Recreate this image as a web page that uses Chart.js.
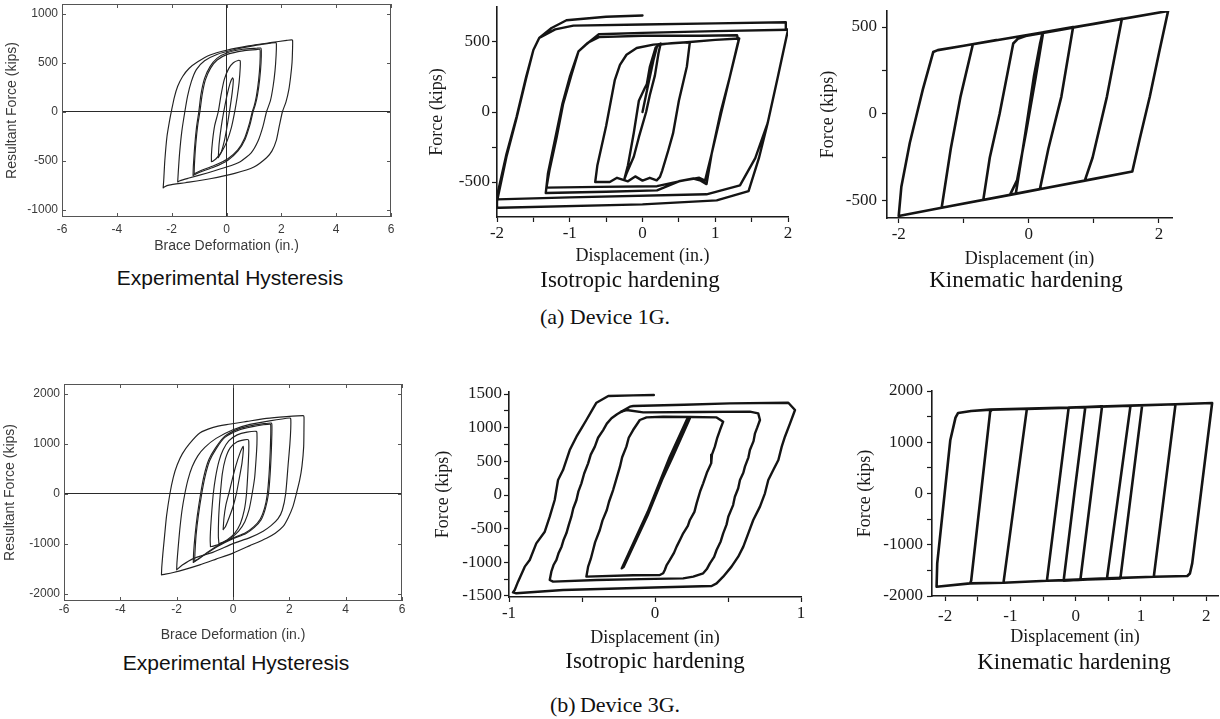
<!DOCTYPE html>
<html>
<head>
<meta charset="utf-8">
<script src="https://cdn.jsdelivr.net/npm/chart.js@4.4.1/dist/chart.umd.min.js"></script>
<style>
  html, body { margin: 0; padding: 0; background: #fff; overflow: hidden; }
  #wrap { position: relative; width: 1220px; height: 719px; overflow: hidden; }
  #wrap canvas { position: absolute; }
  .cap { position: absolute; white-space: nowrap; transform: translate(-50%, -50%); line-height: 1; color: #111; }
  .serif { font-family: "Liberation Serif", "Times New Roman", serif; }
  .sans { font-family: "Liberation Sans", Arial, sans-serif; }
</style>
</head>
<body>
<div id="wrap"></div>
<script>
// ---------- Experimental hysteresis, device 1G (in., kips) ----------
const exp1gLoop1 = [[-2.31,-778],[-2.29,-700],[-2.25,-500],[-2.17,-250],[-2.07,-80],[-2.0,20],[-1.9,150],[-1.78,260],[-1.6,360],[-1.36,444],[-1.05,510],[-0.6,580],[0,628],[0.8,672],[1.6,705],[2.2,728],[2.37,734],[2.41,728],[2.41,650],[2.39,500],[2.34,360],[2.27,220],[2.17,100],[2.04,0],[1.93,-140],[1.82,-290],[1.66,-400],[1.46,-470],[1.0,-565],[0.3,-630],[-0.6,-685],[-1.5,-725],[-2.1,-750],[-2.27,-768],[-2.31,-778]];
const exp1gLoop2 = [[-1.78,-717],[-1.76,-620],[-1.71,-420],[-1.63,-200],[-1.52,0],[-1.42,160],[-1.28,310],[-1.1,430],[-0.8,520],[-0.35,585],[0.3,635],[1.1,680],[1.6,700],[1.8,706],[1.82,690],[1.81,580],[1.77,420],[1.7,260],[1.6,110],[1.46,0],[1.33,-150],[1.15,-300],[0.9,-420],[0.5,-510],[0,-565],[-0.7,-625],[-1.4,-680],[-1.7,-705],[-1.78,-717]];
const exp1gLoop3 = [[-1.22,-650],[-1.21,-560],[-1.16,-350],[-1.09,-150],[-1.01,0],[-0.93,180],[-0.8,340],[-0.6,460],[-0.35,545],[0.05,605],[0.6,638],[1.1,648],[1.25,650],[1.27,625],[1.26,500],[1.21,330],[1.13,170],[1.05,70],[0.97,0],[0.86,-130],[0.68,-280],[0.42,-400],[0.05,-495],[-0.45,-565],[-0.95,-615],[-1.15,-640],[-1.22,-650]];
const exp1gLoop3b = [[-1.18,-635],[-1.17,-540],[-1.12,-330],[-1.05,-140],[-0.97,0],[-0.89,170],[-0.77,325],[-0.58,445],[-0.34,528],[0.05,588],[0.6,622],[1.08,634],[1.21,638],[1.23,612],[1.22,490],[1.17,320],[1.09,160],[1.01,60],[0.94,0],[0.83,-125],[0.66,-270],[0.41,-390],[0.05,-480],[-0.45,-550],[-0.93,-600],[-1.12,-625],[-1.18,-635]];
const exp1gLoop4 = [[-0.55,-510],[-0.55,-440],[-0.51,-300],[-0.43,-140],[-0.3,0],[-0.2,170],[-0.08,330],[0.08,440],[0.25,500],[0.45,525],[0.5,520],[0.5,450],[0.46,300],[0.39,150],[0.3,0],[0.18,-160],[0.02,-300],[-0.18,-410],[-0.38,-480],[-0.5,-505],[-0.55,-510]];
const exp1gLoop5 = [[-0.3,-470],[-0.27,-330],[-0.19,-150],[-0.1,0],[0.02,170],[0.13,290],[0.22,345],[0.25,330],[0.21,200],[0.14,60],[0.04,-120],[-0.08,-300],[-0.2,-420],[-0.3,-470]];

// ---------- Experimental hysteresis, device 3G ----------
const exp3gLoop1 = [[-2.54,-1625],[-2.53,-1480],[-2.49,-1200],[-2.43,-850],[-2.36,-450],[-2.24,0],[-2.12,330],[-1.98,580],[-1.8,800],[-1.55,1000],[-1.18,1217],[-0.7,1330],[-0.23,1385],[0.5,1450],[1.19,1510],[1.9,1545],[2.49,1565],[2.52,1545],[2.52,1350],[2.51,950],[2.45,560],[2.37,281],[2.25,0],[2.13,-254],[1.96,-480],[1.78,-655],[1.5,-790],[1.19,-890],[0.6,-1040],[0,-1190],[-0.6,-1310],[-1.18,-1425],[-1.7,-1515],[-2.12,-1579],[-2.4,-1612],[-2.54,-1625]];
const exp3gLoop2 = [[-2.0,-1525],[-1.99,-1380],[-1.95,-1100],[-1.89,-720],[-1.81,-330],[-1.71,0],[-1.6,280],[-1.45,540],[-1.25,760],[-1.0,930],[-0.6,1110],[0,1284],[0.6,1390],[1.3,1460],[2.01,1518],[2.05,1500],[2.05,1300],[2.02,1000],[1.96,600],[1.87,0],[1.75,-330],[1.6,-500],[1.35,-640],[1.07,-750],[0.6,-880],[0,-1000],[-0.7,-1170],[-1.41,-1300],[-1.8,-1430],[-2.0,-1525]];
const exp3gLoop3 = [[-1.41,-1378],[-1.4,-1200],[-1.35,-850],[-1.27,-450],[-1.15,0],[-1.03,360],[-0.86,680],[-0.62,920],[-0.3,1150],[0.2,1300],[0.7,1370],[1.1,1405],[1.36,1418],[1.38,1390],[1.38,1200],[1.36,850],[1.32,400],[1.26,0],[1.15,-300],[1.0,-520],[0.75,-680],[0.45,-800],[0.0,-900],[-0.5,-1040],[-0.95,-1200],[-1.25,-1320],[-1.41,-1378]];
const exp3gLoop3b = [[-1.36,-1350],[-1.35,-1180],[-1.31,-830],[-1.23,-440],[-1.11,0],[-0.99,350],[-0.83,660],[-0.6,900],[-0.3,1125],[0.2,1275],[0.7,1345],[1.08,1382],[1.32,1396],[1.34,1370],[1.34,1180],[1.32,830],[1.28,390],[1.22,0],[1.12,-290],[0.97,-505],[0.73,-665],[0.43,-785],[0.0,-885],[-0.5,-1025],[-0.93,-1180],[-1.21,-1296],[-1.36,-1350]];
const exp3gLoop4 = [[-0.8,-1060],[-0.81,-920],[-0.79,-650],[-0.75,-330],[-0.7,0],[-0.62,330],[-0.5,650],[-0.35,880],[-0.15,1060],[0.15,1180],[0.5,1235],[0.83,1251],[0.85,1220],[0.85,1000],[0.82,700],[0.77,330],[0.68,0],[0.57,-320],[0.42,-560],[0.2,-750],[-0.1,-900],[-0.45,-1005],[-0.7,-1050],[-0.8,-1060]];
const exp3gLoop5 = [[-0.5,-1000],[-0.52,-850],[-0.51,-500],[-0.48,-200],[-0.45,0],[-0.38,400],[-0.27,700],[-0.1,920],[0.15,1040],[0.4,1080],[0.54,1084],[0.56,1050],[0.56,850],[0.53,450],[0.48,0],[0.4,-330],[0.26,-600],[0.05,-800],[-0.2,-920],[-0.42,-985],[-0.5,-1000]];
const exp3gLoop6 = [[-0.35,-720],[-0.32,-480],[-0.25,-220],[-0.15,0],[-0.03,280],[0.1,560],[0.25,820],[0.36,950],[0.37,900],[0.32,620],[0.22,300],[0.12,0],[0.0,-260],[-0.14,-480],[-0.27,-660],[-0.35,-720]];

// ---------- Isotropic hardening model, device 1G ----------
const iso1gCore = [[0,0],[0.08,200],[0.15,370],[0.2,470],[0.25,490],[0.22,420],[0.17,260],[0.1,120],[0.05,0],[-0.05,-180],[-0.12,-320],[-0.22,-440],[-0.25,-480],[-0.2,-380],[-0.12,-150],[-0.05,80],[0.03,170],[0.06,200],[0.1,320],[0.18,460],[0.22,480]];
const iso1gMid = [[0.22,480],[0.4,492],[0.61,498],[0.65,495],[0.61,325],[0.5,80],[0.42,-153],[0.355,-273],[0.27,-420],[0.24,-464],[0.195,-488],[0.1,-470],[0,-490],[-0.1,-460],[-0.2,-495],[-0.35,-470],[-0.45,-500],[-0.65,-500],[-0.62,-380],[-0.5,-100],[-0.38,230],[-0.31,337],[-0.22,409],[-0.08,457],[0.15,481],[0.61,498]];
const iso1gMedium = [[0.61,498],[1.0,515],[1.33,525],[1.31,490],[1.2,250],[1.08,-10],[0.95,-300],[0.86,-490],[0.78,-470],[0.55,-490],[0.2,-530],[-0.6,-535],[-1.32,-540],[-1.28,-420],[-1.18,-180],[-1.09,60],[-0.98,260],[-0.88,433],[-0.75,495],[-0.6,535],[0,545],[0.8,545],[1.3,548],[1.32,505],[1.2,250],[1.07,-10],[0.95,-300],[0.88,-515],[0.8,-490],[0.7,-475],[0.5,-495],[0.2,-560],[-0.5,-570],[-1.33,-579],[-1.3,-440],[-1.2,-190],[-1.1,60],[-1.0,250],[-0.88,433],[-0.78,480],[-0.6,555],[0,565],[1.0,578],[2.0,588]];
const iso1gOuter = [[2.0,588],[1.86,250],[1.72,-80],[1.55,-330],[1.34,-524],[0.88,-588],[-1.0,-610],[-2.01,-624],[-1.87,-300],[-1.73,-33],[-1.6,250],[-1.5,443],[-1.42,529],[-1.2,590],[-0.95,617],[0,625],[1.0,633],[1.97,641],[1.97,590],[2.0,588],[1.86,250],[1.72,-80],[1.6,-330],[1.458,-565],[1.02,-631],[0,-660],[-1.96,-684],[-2.0,-684],[-2.0,-640],[-1.87,-320],[-1.73,-40],[-1.6,240],[-1.5,443],[-1.42,529],[-1.25,600],[-1.045,655],[-0.5,680],[0,689]];

// ---------- Kinematic hardening model, device 1G ----------
const kin1gPath = [[0,0],[0.06,120],[0.15,330],[0.22,470],[0.1,200],[-0.04,-100],[-0.18,-380],[-0.29,-465],[-0.2,-458],[-0.05,-100],[0.08,220],[0.17,400],[0.2,450],[0.22,470],[0.68,500],[0.5,100],[0.3,-200],[0.17,-432],[-0.29,-465],[-0.7,-494],[-0.6,-250],[-0.45,0],[-0.32,250],[-0.24,405],[-0.17,432],[-0.05,448],[0.5,485],[1.43,547],[1.2,100],[0.98,-250],[0.86,-383],[0.3,-423],[-0.5,-480],[-1.34,-539],[-1.2,-200],[-1.05,100],[-0.86,401],[0,456],[1.0,518],[2.14,592],[2.0,350],[1.86,102],[1.7,-150],[1.59,-331],[1.0,-373],[0,-444],[-1.0,-515],[-2.0,-586],[-1.96,-420],[-1.83,-167],[-1.73,-13],[-1.63,140],[-1.47,356],[-1.4,367],[-1.0,392],[-0.5,425]];

// ---------- Isotropic hardening model, device 3G ----------
const iso3gCore = [[0,0],[0.12,560],[0.239,1139],[0.22,1130],[0.1,560],[-0.05,-250],[-0.228,-1090],[-0.215,-1070],[-0.05,-300],[0.1,500],[0.24,1150]];
const iso3gSmall = [[-0.058,1153],[0.056,1163],[0.24,1158],[0.422,1153],[0.467,1089],[0.445,965],[0.425,840],[0.41,718],[0.39,600],[0.385,470],[0.355,330],[0.33,173],[0.31,60],[0.285,-124],[0.27,-250],[0.239,-371],[0.225,-460],[0.193,-569],[0.175,-650],[0.148,-767],[0.13,-860],[0.102,-965],[0.08,-1040],[0.067,-1114],[0.056,-1163],[0.033,-1188],[-0.15,-1192],[-0.47,-1213],[-0.458,-1064],[-0.44,-950],[-0.424,-817],[-0.41,-700],[-0.378,-520],[-0.36,-380],[-0.33,-223],[-0.315,-100],[-0.287,74],[-0.27,200],[-0.24,421],[-0.225,560],[-0.196,718],[-0.18,850],[-0.15,965],[-0.104,1114],[-0.058,1153]];
const iso3gMedium = [[-0.195,1262],[-0.081,1228],[0.3,1232],[0.65,1238],[0.707,1213],[0.719,1114],[0.7,1000],[0.685,916],[0.675,800],[0.65,668],[0.64,560],[0.616,421],[0.605,330],[0.582,223],[0.57,100],[0.547,-25],[0.535,-150],[0.502,-322],[0.49,-440],[0.467,-569],[0.45,-690],[0.422,-817],[0.405,-920],[0.376,-1015],[0.355,-1100],[0.33,-1163],[0.262,-1213],[0.193,-1238],[-0.1,-1250],[-0.401,-1262],[-0.698,-1287],[-0.721,-1262],[-0.71,-1139],[-0.695,-1040],[-0.675,-965],[-0.66,-860],[-0.64,-767],[-0.625,-660],[-0.607,-569],[-0.59,-440],[-0.573,-322],[-0.56,-200],[-0.538,-74],[-0.525,50],[-0.504,173],[-0.485,320],[-0.458,470],[-0.44,600],[-0.412,718],[-0.39,850],[-0.355,965],[-0.33,1060],[-0.298,1139],[-0.26,1200],[-0.23,1238],[-0.195,1262]];
const iso3gOuter = [[-0.23,1238],[-0.172,1312],[-0.149,1322],[0.2,1340],[0.513,1361],[0.913,1371],[0.959,1262],[0.925,1064],[0.89,866],[0.868,718],[0.845,520],[0.81,371],[0.776,223],[0.753,25],[0.719,-173],[0.673,-371],[0.639,-569],[0.605,-767],[0.57,-916],[0.524,-1064],[0.467,-1213],[0.422,-1312],[0.388,-1351],[0.056,-1371],[-0.63,-1411],[-0.95,-1460],[-0.973,-1446],[-0.961,-1411],[-0.938,-1287],[-0.892,-1064],[-0.858,-965],[-0.813,-718],[-0.755,-545],[-0.721,-322],[-0.687,-74],[-0.664,223],[-0.63,371],[-0.584,668],[-0.538,866],[-0.504,990],[-0.47,1114],[-0.424,1287],[-0.401,1371],[-0.32,1470],[-0.15,1480],[-0.008,1485]];

// ---------- Kinematic hardening model, device 3G ----------
const kin3gPath = [[-0.02,0],[0.148,1688],[0.404,1701],[0.072,-1688],[-0.44,-1701],[-0.107,1675],[0.84,1714],[0.48,-1656],[-0.44,-1701],[-1.105,-1740],[-0.747,1650],[-0.107,1675],[1.018,1721],[0.685,-1656],[-0.44,-1701],[-1.105,-1740],[-1.616,-1753],[-1.6,-1700],[-1.309,1600],[-1.28,1636],[-0.107,1675],[0.84,1714],[1.529,1740],[1.197,-1623],[0.48,-1656],[-0.44,-1701],[-1.105,-1740],[-1.616,-1753],[-2.13,-1818],[-2.12,-1364],[-1.92,1039],[-1.84,1480],[-1.8,1571],[-1.6,1610],[-1.31,1636],[-0.107,1675],[0.84,1714],[1.529,1740],[2.09,1766],[1.785,-1364],[1.75,-1560],[1.71,-1610],[1.197,-1623],[0.48,-1656],[-0.184,-1701],[-0.02,0]];

// ---------- axis ticks and labels ----------
const expXTicks = [-6,-4,-2,0,2,4,6];
const expY1gTicks = [-1000,-500,0,500,1000];
const expY3gTicks = [-2000,-1000,0,1000,2000];
const iso1gXTicks = [-2,-1.5,-1,-0.5,0,0.5,1,1.5,2];
const iso1gXLabels = [-2,-1,0,1,2];
const iso1gYTicks = [-500,-250,0,250,500];
const iso1gYLabels = [-500,0,500];
const kin1gXTicks = [-2,-1,0,1,2];
const kin1gXLabels = [-2,0,2];
const iso3gXTicks = [-1,-0.5,0,0.5,1];
const iso3gXLabels = [-1,0,1];
const iso3gYTicks = [-1500,-1250,-1000,-750,-500,-250,0,250,500,750,1000,1250,1500];
const iso3gYLabels = [-1500,-1000,-500,0,500,1000,1500];
const kin3gXTicks = [-2,-1.5,-1,-0.5,0,0.5,1,1.5,2];
const kin3gXLabels = [-2,-1,0,1,2];
const kin3gYTicks = [-2000,-1500,-1000,-500,0,500,1000,1500,2000];
const kin3gYLabels = [-2000,-1000,0,1000,2000];

const SERIF = '"Liberation Serif", "Times New Roman", serif';
const SANS = '"Liberation Sans", Arial, sans-serif';
const PAD_TOP = 16, PAD_RIGHT = 20;
const wrap = document.getElementById('wrap');

// Box with inward tick marks for the test-data panels
const frameTicks = {
  id: 'frameTicks',
  afterDraw(chart, args, opts) {
    if (!opts || !opts.on) return;
    const { ctx, chartArea: a, scales: { x, y } } = chart;
    const len = 4;
    ctx.save();
    ctx.strokeStyle = '#555';
    ctx.lineWidth = 1;
    ctx.strokeRect(a.left + 0.5, a.top + 0.5, a.right - a.left - 1, a.bottom - a.top - 1);
    ctx.beginPath();
    x.ticks.forEach(t => {
      const p = Math.round(x.getPixelForValue(t.value)) + 0.5;
      ctx.moveTo(p, a.bottom); ctx.lineTo(p, a.bottom - len);
      ctx.moveTo(p, a.top); ctx.lineTo(p, a.top + len);
    });
    y.ticks.forEach(t => {
      const p = Math.round(y.getPixelForValue(t.value)) + 0.5;
      ctx.moveTo(a.left, p); ctx.lineTo(a.left + len, p);
      ctx.moveTo(a.right, p); ctx.lineTo(a.right - len, p);
    });
    ctx.stroke();
    ctx.restore();
  }
};

function axis(o) {
  const horiz = o.position === 'bottom';
  return {
    type: 'linear', position: o.position, min: o.min, max: o.max,
    afterFit: s => { if (horiz) s.height = o.size; else s.width = o.size; },
    afterBuildTicks: s => { s.ticks = o.ticks.map(v => ({ value: v })); },
    ticks: {
      autoSkip: false, includeBounds: false, maxRotation: 0, minRotation: 0,
      padding: o.tickPad, color: o.color,
      font: { family: o.family, size: o.fontSize },
      callback: v => (o.labels.includes(v) ? String(v) : '')
    },
    grid: o.grid,
    border: o.border,
    title: {
      display: true, text: o.title, color: o.color,
      font: { family: o.family, size: o.titleSize },
      padding: horiz ? { top: 0, bottom: o.titlePad } : { top: o.titlePad, bottom: 0 }
    }
  };
}

function panel(p) {
  const c = document.createElement('canvas');
  const W = p.yW + (p.box.right - p.box.left) + PAD_RIGHT;
  const H = PAD_TOP + (p.box.bottom - p.box.top) + p.xH;
  c.width = W; c.height = H;
  c.style.left = (p.box.left - p.yW) + 'px';
  c.style.top = (p.box.top - PAD_TOP) + 'px';
  c.style.width = W + 'px'; c.style.height = H + 'px';
  wrap.appendChild(c);

  const exp = p.kind === 'exp';
  const family = exp ? SANS : SERIF;
  const textColor = exp ? '#3a3a3a' : '#1a1a1a';
  const grid = exp
    ? { display: true, drawOnChartArea: true, drawTicks: false,
        color: ctx => (ctx.tick && ctx.tick.value === 0 ? '#2a2a2a' : 'rgba(0,0,0,0)'), lineWidth: 1 }
    : { display: true, drawOnChartArea: false, drawTicks: true, tickLength: 5, tickColor: '#1a1a1a', tickWidth: 1.2 };
  const border = exp ? { display: false } : { display: true, color: '#1a1a1a', width: 1.6 };

  new Chart(c, {
    type: 'scatter',
    data: {
      datasets: p.series.map(s => ({
        data: s.map(q => ({ x: q[0], y: q[1] })),
        showLine: true, fill: false, pointRadius: 0,
        borderColor: exp ? '#222' : '#141414',
        borderWidth: exp ? 1.15 : p.lw,
        tension: exp ? 0.2 : 0,
        borderJoinStyle: 'round', borderCapStyle: 'round'
      }))
    },
    options: {
      responsive: false, animation: false, events: [],
      layout: { padding: { top: PAD_TOP, right: PAD_RIGHT, left: 0, bottom: 0 } },
      plugins: { legend: { display: false }, tooltip: { enabled: false }, frameTicks: { on: exp } },
      scales: {
        x: axis({ position: 'bottom', min: p.xMin, max: p.xMax, size: p.xH, ticks: p.xTicks, labels: p.xLabels,
                  tickPad: p.xTickPad, color: textColor, family, fontSize: p.tickSize, grid, border,
                  title: p.xTitle, titleSize: p.titleSize, titlePad: p.xTitlePad }),
        y: axis({ position: 'left', min: p.yMin, max: p.yMax, size: p.yW, ticks: p.yTicks, labels: p.yLabels,
                  tickPad: p.yTickPad, color: textColor, family, fontSize: p.tickSize, grid, border,
                  title: p.yTitle, titleSize: p.titleSize, titlePad: p.yTitlePad })
      }
    },
    plugins: [frameTicks]
  });
}

// (a) Device 1G
panel({ kind: 'exp', box: { left: 62, top: 4, right: 391, bottom: 217 }, yW: 62, xH: 40,
  xMin: -6, xMax: 6, yMin: -1075, yMax: 1100,
  xTicks: expXTicks, xLabels: expXTicks, yTicks: expY1gTicks, yLabels: expY1gTicks,
  tickSize: 12, titleSize: 14, xTickPad: 5.6, yTickPad: 4, xTitlePad: 2.6, yTitlePad: 3.6,
  xTitle: 'Brace Deformation (in.)', yTitle: 'Resultant Force (kips)',
  series: [exp1gLoop1, exp1gLoop2, exp1gLoop3, exp1gLoop3b, exp1gLoop4, exp1gLoop5] });

panel({ kind: 'model', box: { left: 497, top: 7, right: 788, bottom: 217 }, yW: 77, xH: 52, lw: 2.4,
  xMin: -2, xMax: 2, yMin: -750, yMax: 750,
  xTicks: iso1gXTicks, xLabels: iso1gXLabels, yTicks: iso1gYTicks, yLabels: iso1gYLabels,
  tickSize: 17, titleSize: 18, xTickPad: 1, yTickPad: 2, xTitlePad: 2.2, yTitlePad: 6.7,
  xTitle: 'Displacement (in.)', yTitle: 'Force (kips)',
  series: [iso1gCore, iso1gMid, iso1gMedium, iso1gOuter] });

panel({ kind: 'model', box: { left: 887, top: 11, right: 1172, bottom: 218 }, yW: 77, xH: 54, lw: 2.6,
  xMin: -2.18, xMax: 2.2, yMin: -598, yMax: 592,
  xTicks: kin1gXTicks, xLabels: kin1gXLabels, yTicks: iso1gYTicks, yLabels: iso1gYLabels,
  tickSize: 17, titleSize: 18, xTickPad: 1.8, yTickPad: 5, xTitlePad: 2.2, yTitlePad: 7.2,
  xTitle: 'Displacement (in)', yTitle: 'Force (kips)',
  series: [kin1gPath] });

// (b) Device 3G
panel({ kind: 'exp', box: { left: 64, top: 384, right: 402, bottom: 601 }, yW: 64, xH: 45,
  xMin: -6, xMax: 6, yMin: -2150, yMax: 2200,
  xTicks: expXTicks, xLabels: expXTicks, yTicks: expY3gTicks, yLabels: expY3gTicks,
  tickSize: 12, titleSize: 14, xTickPad: 1.8, yTickPad: 4, xTitlePad: 2.6, yTitlePad: 1.6,
  xTitle: 'Brace Deformation (in.)', yTitle: 'Resultant Force (kips)',
  series: [exp3gLoop1, exp3gLoop2, exp3gLoop3, exp3gLoop3b, exp3gLoop4, exp3gLoop5, exp3gLoop6] });

panel({ kind: 'model', box: { left: 509, top: 392, right: 801, bottom: 597 }, yW: 79, xH: 54, lw: 2.4,
  xMin: -1, xMax: 1, yMin: -1515, yMax: 1530,
  xTicks: iso3gXTicks, xLabels: iso3gXLabels, yTicks: iso3gYTicks, yLabels: iso3gYLabels,
  tickSize: 17, titleSize: 18, xTickPad: 1, yTickPad: 2, xTitlePad: 2.2, yTitlePad: 2.2,
  xTitle: 'Displacement (in)', yTitle: 'Force (kips)',
  series: [iso3gCore, iso3gSmall, iso3gMedium, iso3gOuter] });

panel({ kind: 'model', box: { left: 932, top: 391, right: 1218, bottom: 596 }, yW: 82, xH: 54, lw: 2.6,
  xMin: -2.2, xMax: 2.18, yMin: -2000, yMax: 2000,
  xTicks: kin3gXTicks, xLabels: kin3gXLabels, yTicks: kin3gYTicks, yLabels: kin3gYLabels,
  tickSize: 17, titleSize: 18, xTickPad: 5.5, yTickPad: 4, xTitlePad: 2.2, yTitlePad: 4.2,
  xTitle: 'Displacement (in)', yTitle: 'Force (kips)',
  series: [kin3gPath] });

// Panel and figure captions
const captions = [
  ['Experimental Hysteresis', 230, 277, 'sans', 21],
  ['Isotropic hardening', 630, 279, 'serif', 23],
  ['Kinematic hardening', 1026, 279, 'serif', 23],
  ['(a) Device 1G.', 605, 317, 'serif', 22],
  ['Experimental Hysteresis', 236, 662, 'sans', 21],
  ['Isotropic hardening', 655, 660, 'serif', 23],
  ['Kinematic hardening', 1074, 661, 'serif', 23],
  ['(b)\u2009Device 3G.', 615, 705, 'serif', 22]
];
captions.forEach(([text, x, y, cls, size]) => {
  const d = document.createElement('div');
  d.className = 'cap ' + cls;
  d.textContent = text;
  d.style.left = x + 'px';
  d.style.top = y + 'px';
  d.style.fontSize = size + 'px';
  wrap.appendChild(d);
});
</script>
</body>
</html>
